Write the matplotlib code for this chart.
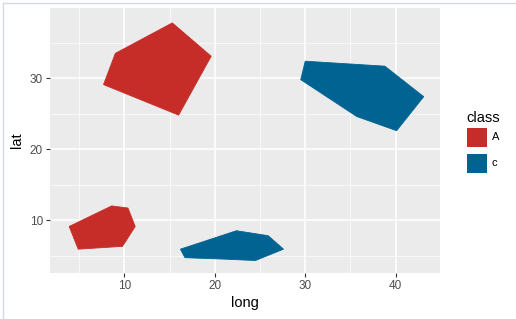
import matplotlib
matplotlib.use("Agg")
import matplotlib.pyplot as plt
from matplotlib.patches import Rectangle
from matplotlib.lines import Line2D

plt.rcParams['font.family'] = ['Liberation Sans', 'DejaVu Sans']

# Data: polygons (long, lat) grouped by class
classes = ["A", "c"]
class_colors = {"A": "#C62D28", "c": "#006391"}

poly_A1_long = [7.7, 9.0, 15.3, 19.6, 16.0]
poly_A1_lat = [29.1, 33.5, 37.8, 33.1, 24.8]
poly_A2_long = [3.9, 4.9, 9.8, 11.2, 10.4, 8.6]
poly_A2_lat = [9.1, 5.9, 6.3, 9.1, 11.7, 12.0]
poly_C1_long = [30.0, 29.5, 35.7, 40.1, 43.1, 38.8]
poly_C1_lat = [32.4, 29.8, 24.6, 22.6, 27.4, 31.7]
poly_C2_long = [16.2, 16.7, 21.0, 24.5, 27.6, 25.9, 22.4]
poly_C2_lat = [5.9, 4.7, 4.5, 4.3, 5.9, 7.8, 8.5]

polygons = [
    ("A", poly_A1_long, poly_A1_lat),
    ("A", poly_A2_long, poly_A2_lat),
    ("c", poly_C1_long, poly_C1_lat),
    ("c", poly_C2_long, poly_C2_lat),
]

x_ticks = [10, 20, 30, 40]
y_ticks = [10, 20, 30]

W, H = 516, 319
fig = plt.figure(figsize=(W / 100, H / 100), dpi=100)
fig.patch.set_facecolor("white")

ax = fig.add_axes([50 / W, 1 - 273 / H, 390 / W, 265 / H])
ax.set_facecolor("#EBEBEB")
for s in ax.spines.values():
    s.set_visible(False)

for cls, lo, la in polygons:
    ax.fill(lo, la, color=class_colors[cls], linewidth=0.6, edgecolor=class_colors[cls], zorder=3)

ax.set_xlim(1.78, 44.9)
ax.set_ylim(2.54, 39.9)
ax.set_xticks(x_ticks)
ax.set_yticks(y_ticks)
ax.set_xticks([5, 15, 25, 35], minor=True)
ax.set_yticks([5, 15, 25, 35], minor=True)
ax.grid(True, which="major", color="white", linewidth=1.1, zorder=1)
ax.grid(True, which="minor", color="white", linewidth=0.5, zorder=1)
ax.set_axisbelow(True)
ax.tick_params(which="major", length=3, width=0.8, color="#333333",
               labelsize=8.5, labelcolor="#4D4D4D", pad=2)
ax.tick_params(which="minor", length=0)
ax.set_xlabel("long", fontsize=10.5, color="black", labelpad=3)
ax.set_ylabel("lat", fontsize=10.5, color="black", labelpad=4)

# Legend (manual, ggplot-like)
fig.text(483 / W, 1 - 118 / H, "class", fontsize=10.5, ha="center", va="center")
key_tops = [128, 154]
for cls, top in zip(classes, key_tops):
    fig.patches.append(Rectangle((467 / W, 1 - (top + 19) / H), 20 / W, 19 / H,
                                 transform=fig.transFigure, facecolor=class_colors[cls],
                                 edgecolor="none"))
    fig.text(492 / W, 1 - (top + 9.5) / H, cls, fontsize=8, ha="left", va="center")

# faint image frame (top and left)
fig.lines.append(Line2D([2.5 / W, 2.5 / W], [0, 1 - 2.5 / H], transform=fig.transFigure,
                        color="#D5DAE4", linewidth=1))
fig.lines.append(Line2D([2.5 / W, 1], [1 - 2.5 / H, 1 - 2.5 / H], transform=fig.transFigure,
                        color="#D5DAE4", linewidth=1))

fig.savefig("out.png", dpi=100)
